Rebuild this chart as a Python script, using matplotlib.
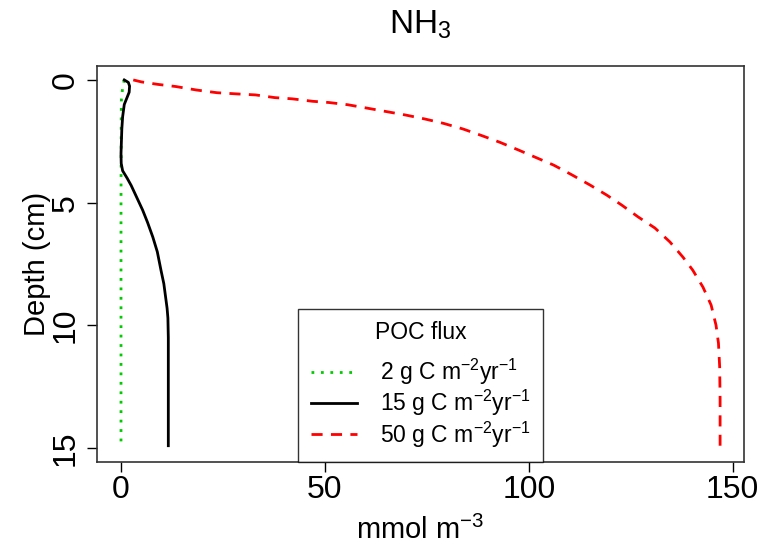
import numpy as np
import matplotlib
matplotlib.use("Agg")
import matplotlib.pyplot as plt

plt.rcParams["font.family"] = ["Liberation Sans", "DejaVu Sans"]
plt.rcParams["mathtext.fontset"] = "custom"
plt.rcParams["mathtext.rm"] = "Liberation Sans"
plt.rcParams["mathtext.it"] = "Liberation Sans:italic"
plt.rcParams["mathtext.default"] = "regular"

# NH3 porewater profiles (mmol m-3) for three POC fluxes
depth_low = [0.0, 0.3, 0.8, 1.5, 5.0, 10.0, 14.9]
nh3_low = [0.8, 0.4, 0.1, 0.05, 0.0, 0.0, 0.0]

depth_mid = [0.0, 0.1, 0.25, 0.5, 0.75, 1.0, 1.5, 2.0, 2.5, 3.0, 3.4, 3.7,
             4.0, 4.3, 4.8, 5.3, 5.8, 6.4, 7.0, 7.75, 8.3, 8.8, 9.3, 9.7,
             10.5, 12.0, 14.9]
nh3_mid = [0.8, 1.8, 2.1, 2.0, 1.4, 0.8, 0.4, 0.2, 0.1, 0.0, 0.05, 0.4,
           1.5, 2.5, 3.9, 5.3, 6.5, 7.8, 8.9, 9.8, 10.5, 10.9, 11.3, 11.5,
           11.6, 11.6, 11.6]

depth_high = [0.0, 0.08, 0.18, 0.27, 0.41, 0.52, 0.57, 0.61, 0.72, 0.77,
              0.87, 0.92, 1.01, 1.15, 1.29, 1.43, 1.59, 1.77, 2.0, 2.27,
              2.54, 2.85, 3.15, 3.47, 3.87, 4.28, 4.69, 5.1, 5.58, 6.03,
              6.6, 7.22, 7.75, 8.44, 9.17, 9.99, 10.72, 11.7, 13.0, 14.9]
nh3_high = [3.0, 5.0, 9.0, 13.5, 18.5, 23.5, 28.5, 33.0, 37.7, 42.0,
            47.0, 51.0, 55.6, 60.4, 65.1, 69.8, 74.5, 79.1, 83.9, 88.5,
            92.9, 97.4, 101.6, 106.1, 110.6, 115.0, 119.1, 122.8, 126.8,
            130.9, 134.6, 137.8, 140.2, 142.7, 144.7, 145.9, 146.5, 146.8,
            146.9, 146.9]

labels = [r"2 g C m$^{-2}$yr$^{-1}$",
          r"15 g C m$^{-2}$yr$^{-1}$",
          r"50 g C m$^{-2}$yr$^{-1}$"]
xticks = [0, 50, 100, 150]
yticks = [0, 5, 10, 15]

fig = plt.figure(figsize=(7.67, 5.45), dpi=100)
ax = fig.add_axes([0.1265, 0.152, 0.8435, 0.727])

ax.plot(nh3_low, depth_low, color="#00cc00", lw=2.0, dashes=(1, 2.4),
        label=labels[0])
ax.plot(nh3_mid, depth_mid, color="black", lw=2.0, label=labels[1])
ax.plot(nh3_high, depth_high, color="red", lw=2.0, dashes=(4, 3),
        label=labels[2])

ax.set_xlim(-5.88, 152.76)
ax.set_ylim(15.57, -0.57)
ax.set_xticks(xticks)
ax.set_yticks(yticks)
ax.tick_params(length=7, width=1, labelsize=23)
ax.tick_params(axis="x", pad=2)
ax.tick_params(axis="y", pad=4.5)
for lab in ax.get_yticklabels():
    lab.set_rotation(90)
    lab.set_va("center")
for sp in ax.spines.values():
    sp.set_linewidth(1.2)
    sp.set_color("#333333")

ax.set_xlabel(r"mmol m$^{-3}$", fontsize=21, labelpad=8)
ax.set_ylabel("Depth (cm)", fontsize=21, labelpad=0)
ax.set_title(r"NH$_3$", fontsize=24, pad=23)

leg = ax.legend(loc="lower center", bbox_to_anchor=(0.5, 0.0),
                title="POC flux", fontsize=16.5, title_fontsize=16.5,
                frameon=True, fancybox=False, borderaxespad=0,
                borderpad=0.55, handlelength=2.0, handletextpad=1.0,
                labelspacing=0.05)
leg.get_frame().set_edgecolor("black")
leg.get_frame().set_linewidth(1.0)
leg._legend_box.sep = 9

fig.savefig("out.png", dpi=100)
